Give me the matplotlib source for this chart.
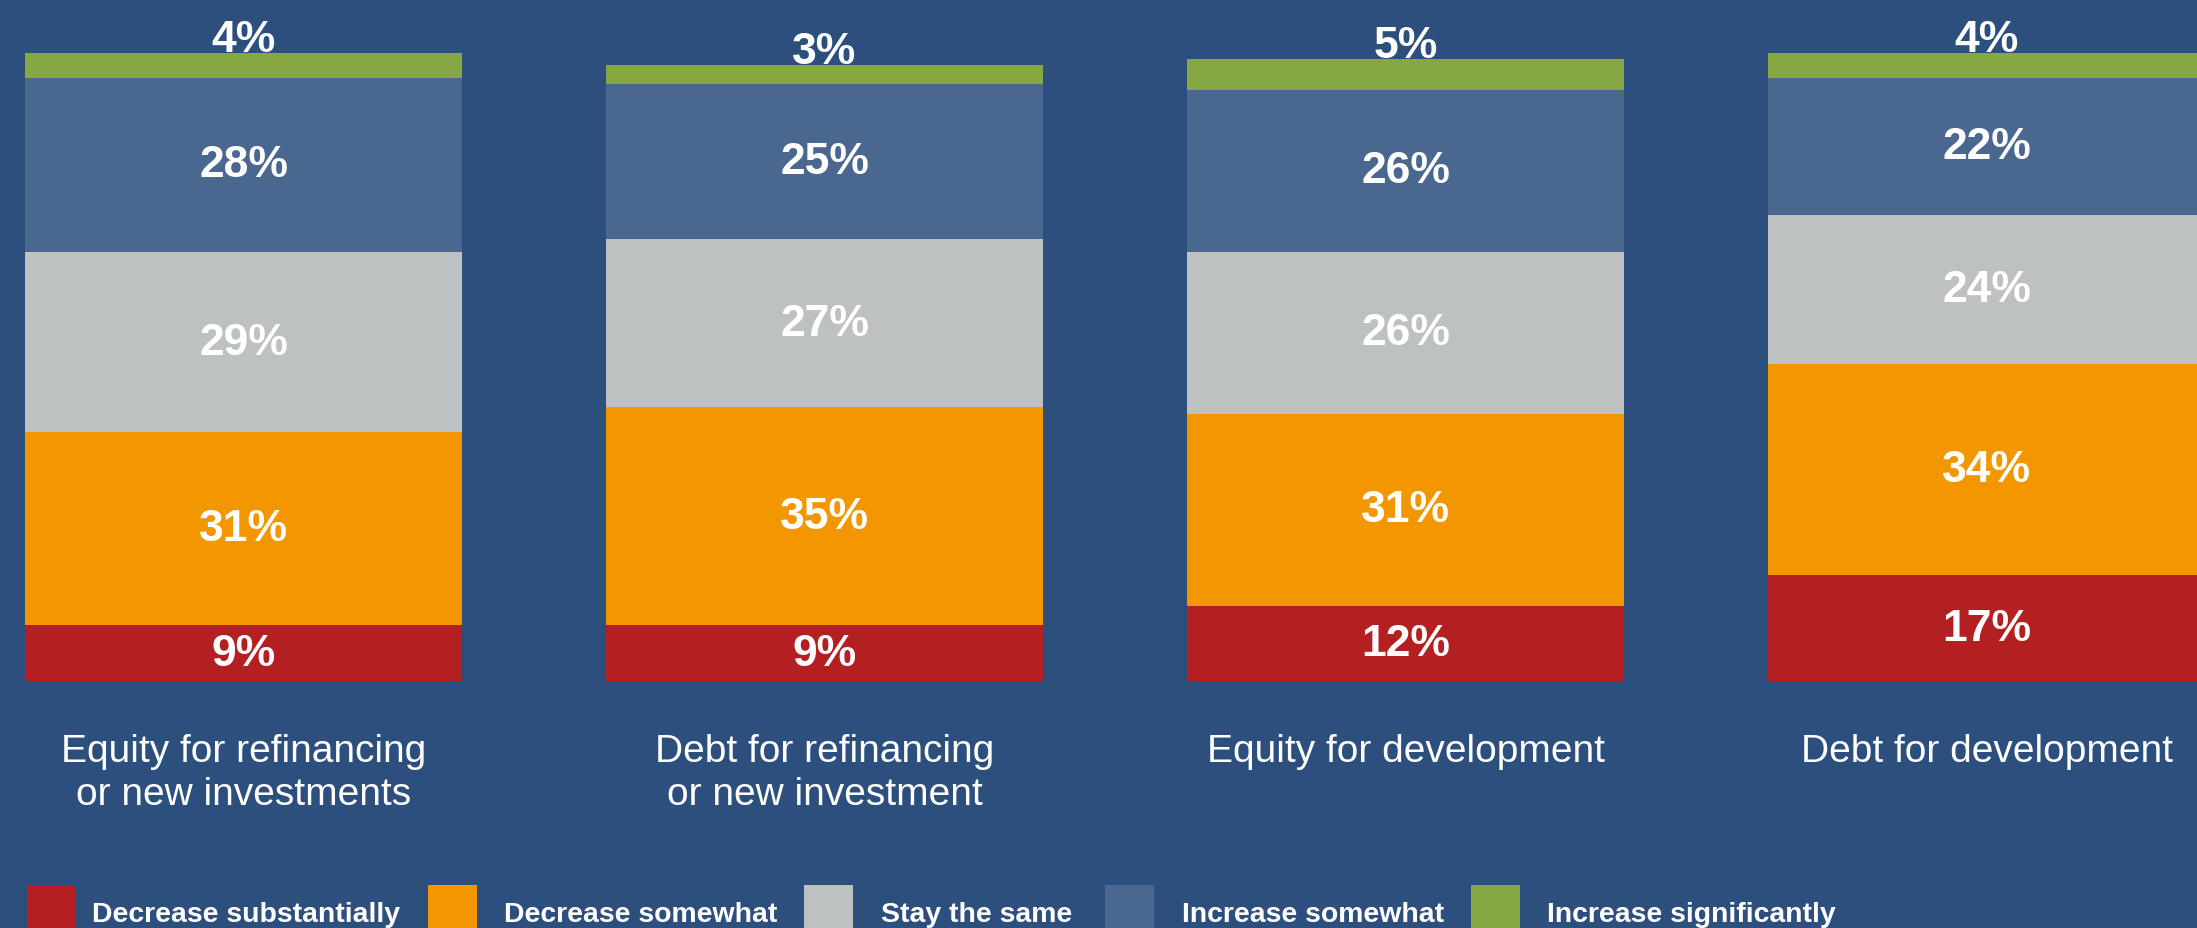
import matplotlib
matplotlib.use("Agg")
import matplotlib.pyplot as plt
from matplotlib.patches import Rectangle

plt.rcParams["font.family"] = ["Liberation Sans", "DejaVu Sans"]

# Survey answers per financing type (percent of respondents)
categories = [
    "Equity for refinancing\nor new investments",
    "Debt for refinancing\nor new investment",
    "Equity for development",
    "Debt for development",
]
series_names = [
    "Decrease substantially",
    "Decrease somewhat",
    "Stay the same",
    "Increase somewhat",
    "Increase significantly",
]
decrease_substantially = [9, 9, 12, 17]
decrease_somewhat = [31, 35, 31, 34]
stay_the_same = [29, 27, 26, 24]
increase_somewhat = [28, 25, 26, 22]
increase_significantly = [4, 3, 5, 4]

series_values = [
    decrease_substantially,
    decrease_somewhat,
    stay_the_same,
    increase_somewhat,
    increase_significantly,
]
series_colors = ["#B41F21", "#F39700", "#BEC1C2", "#4A6790", "#86A843"]
background = "#2C4F7E"

W, H = 2197, 929
fig = plt.figure(figsize=(W / 100, H / 100), dpi=100, facecolor=background)

# plot area: baseline at 682 px from top, 100 % equals 622 px
bottom_px = 682
unit_px = 6.22
ax = fig.add_axes([0, (H - bottom_px) / H, 1, bottom_px / H])
ax.set_facecolor(background)
step_px = 581
first_center_px = 243.5
ax.set_xlim(-first_center_px / step_px, (W - first_center_px) / step_px)
ax.set_ylim(0, bottom_px / unit_px)

x = list(range(len(categories)))
bar_width = 437 / step_px
bottoms = [0] * len(categories)
for k, (vals, col) in enumerate(zip(series_values, series_colors)):
    ax.bar(x, vals, width=bar_width, bottom=bottoms, color=col,
           edgecolor="none", linewidth=0)
    for i, v in enumerate(vals):
        if k == len(series_values) - 1:
            ax.annotate(f"{v}%", xy=(x[i], bottoms[i] + v), xytext=(0, 1.5),
                        textcoords="offset points", ha="center", va="baseline",
                        color="white", fontsize=32, fontweight="bold")
        else:
            ax.text(x[i], bottoms[i] + v / 2, f"{v}%", ha="center",
                    va="center", color="white", fontsize=32,
                    fontweight="bold")
    bottoms = [b + v for b, v in zip(bottoms, vals)]

ax.set_xticks(x)
ax.set_xticklabels(categories, fontsize=28, color="white",
                   multialignment="center", linespacing=1.25)
ax.tick_params(axis="x", length=0, pad=37.4)
ax.set_yticks([])
for s in ax.spines.values():
    s.set_visible(False)

# legend row along the bottom edge (pixel offsets from the left edge)
box_lefts = [27, 428, 804, 1105, 1471]
text_lefts = [92, 504, 881, 1182, 1547]
box_w, box_top = 49.0, 886.0
for name, col, bx, tx in zip(series_names, series_colors, box_lefts, text_lefts):
    fig.add_artist(Rectangle((bx / W, -0.02), box_w / W,
                             (H - box_top) / H + 0.02,
                             transform=fig.transFigure, facecolor=col,
                             edgecolor="none"))
    fig.text(tx / W, (H - 922) / H, name, ha="left", va="baseline",
             color="white", fontsize=20.4, fontweight="bold")

fig.savefig("out.png", dpi=100, facecolor=background)
